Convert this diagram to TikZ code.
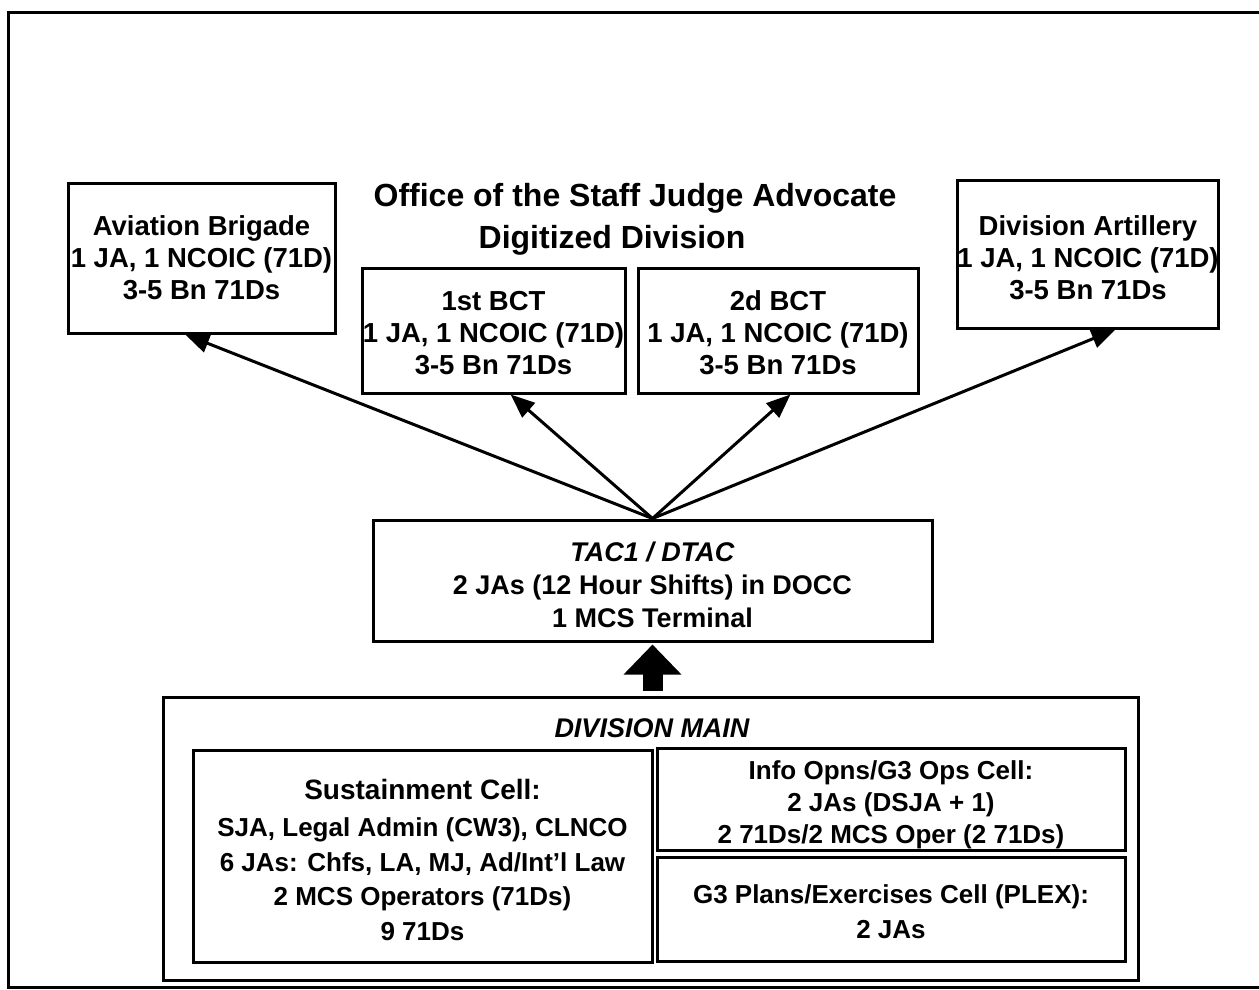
\documentclass[tikz,border=0pt]{standalone}
\usepackage{fontspec}
\setmainfont{Liberation Sans}
\usetikzlibrary{arrows.meta}

\begin{document}
\begin{tikzpicture}[x=1pt,y=-1pt,line width=3pt,
  unit node/.style={draw,rectangle,align=center,inner sep=0pt,
    font=\bfseries\fontsize{27.5}{32}\selectfont},
  cell node/.style={draw,rectangle,align=center,inner sep=0pt,
    font=\bfseries\fontsize{26}{34.5}\selectfont},
  title node/.style={inner sep=0pt,font=\bfseries\fontsize{32}{38}\selectfont},
  link/.style={-{Triangle[length=24pt,width=19pt]}},
  fat link/.style={line width=20pt,-{Triangle[length=30pt,width=56pt]}}]
  \useasboundingbox (0,0) rectangle (1259,989);
  \draw (8,12) rectangle (1262,987);

  \node[title node] (title) at (635,198) {Office of the Staff Judge Advocate};
  \node[title node] (subtitle) at (612,240) {Digitized Division};

  \node[unit node,minimum width=267pt,minimum height=150pt] (avn) at (201.5,258)
    {Aviation Brigade\\1 JA, 1 NCOIC (71D)\\3-5 Bn 71Ds};
  \node[unit node,minimum width=263pt,minimum height=125pt] (bct1) at (493.5,330.5)
    {\rule{0pt}{24pt}1st BCT\\1 JA, 1 NCOIC (71D)\\3-5 Bn 71Ds};
  \node[unit node,minimum width=280pt,minimum height=125pt] (bct2) at (778,330.5)
    {\rule{0pt}{24pt}2d BCT\\1 JA, 1 NCOIC (71D)\\3-5 Bn 71Ds};
  \node[unit node,minimum width=260pt,minimum height=148pt] (divarty) at (1088,254)
    {\rule{0pt}{27pt}Division Artillery\\1 JA, 1 NCOIC (71D)\\3-5 Bn 71Ds};

  \node[unit node,font=\bfseries\fontsize{27}{33}\selectfont,
    minimum width=559pt,minimum height=121pt] (tac) at (652.5,580.5)
    {\rule{0pt}{28pt}\textit{TAC1 / DTAC}\\2 JAs (12 Hour Shifts) in DOCC\\1 MCS Terminal};

  % division main and its cells
  \node[draw,minimum width=975pt,minimum height=283pt] (divmain) at (650.5,838.5) {};
  \node[font=\bfseries\itshape\fontsize{27}{32}\selectfont] (mainlabel) at (652,728) {DIVISION MAIN};
  \node[cell node,minimum width=459pt,minimum height=212pt] (sust) at (422.5,856)
    {\rule{0pt}{28pt}{\fontsize{28}{34}\selectfont Sustainment Cell:}\\[3pt]SJA, Legal Admin (CW3), CLNCO\\
     6 JAs: Chfs, LA, MJ, Ad/Int’l Law\\2 MCS Operators (71Ds)\\9 71Ds};
  \node[cell node,font=\bfseries\fontsize{26}{32}\selectfont,
    minimum width=468pt,minimum height=102pt] (info) at (891,799)
    {\rule{0pt}{31pt}Info Opns/G3 Ops Cell:\\2 JAs (DSJA + 1)\\2 71Ds/2 MCS Oper (2 71Ds)};
  \node[cell node,minimum width=468pt,minimum height=104pt] (plex) at (891,909)
    {\rule{0pt}{24pt}G3 Plans/Exercises Cell (PLEX):\\2 JAs};

  \draw[link] (tac.north) -- (avn.-102);
  \draw[link] (tac.north) -- (bct1.-75);
  \draw[link] (tac.north) -- (bct2.-79);
  \draw[link] (tac.north) -- (divarty.-70);
  \draw[fat link,shorten >=2pt] ([yshift=5pt]tac.south |- divmain.north) -- (tac.south);
\end{tikzpicture}
\end{document}
